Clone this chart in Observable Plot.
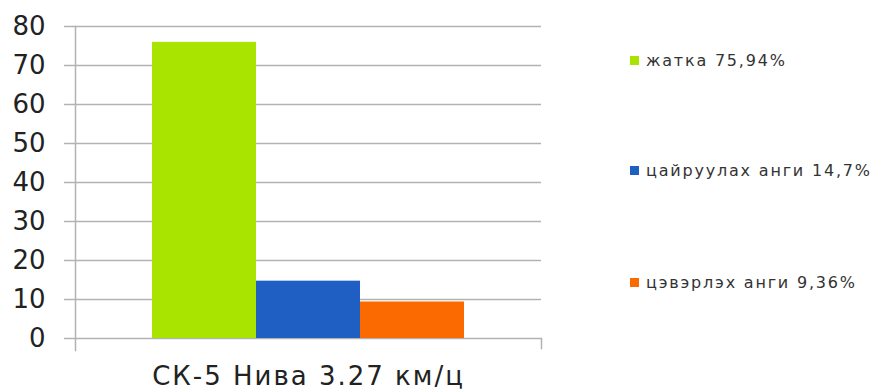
<!DOCTYPE html>
<html><head><meta charset="utf-8">
<script src="https://cdn.jsdelivr.net/npm/d3@7"></script>
<script src="https://cdn.jsdelivr.net/npm/@observablehq/plot@0.6"></script>
<style>
body{margin:0;background:#fff;}
#wrap{position:relative;width:885px;height:391px;}
.leg{position:absolute;left:630px;font:16px "DejaVu Sans",sans-serif;letter-spacing:1.8px;color:#333;display:flex;align-items:center;white-space:nowrap;height:18px;}
.sw{width:9px;height:9px;margin-right:7px;}
.fxax text{letter-spacing:2px;}
</style>
</head><body>
<div id="wrap"></div>
<script>
const category = "СК-5 Нива 3.27 км/ц";
const series = ["жатка", "цайруулах анги", "цэвэрлэх анги"];
const values = [75.94, 14.7, 9.36];
const legendLabels = ["жатка 75,94%", "цайруулах анги 14,7%", "цэвэрлэх анги 9,36%"];
const colors = ["#a8e400", "#1f5ec2", "#fb6a00"];
const yTicks = [0, 10, 20, 30, 40, 50, 60, 70, 80];

const data = series.map((s, i) => ({category, series: s, value: values[i]}));
const W = 885, H = 391, mT = 26, mB = 53, mL = 75, mR = 344;
const grey = "#b2b2b2";

const chart = Plot.plot({
  width: W, height: H, marginLeft: mL, marginRight: mR, marginTop: mT, marginBottom: mB,
  style: {fontFamily: "DejaVu Sans, sans-serif", background: "white", color: "#222"},
  fx: {domain: [category], padding: 0, label: null},
  x: {domain: series, paddingInner: 0, paddingOuter: 0.733, axis: null},
  y: {domain: [0, 80], label: null},
  color: {domain: series, range: colors},
  marks: [
    Plot.gridY(yTicks, {stroke: grey, strokeOpacity: 1, strokeWidth: 1.5}),
    Plot.axisY(yTicks, {tickSize: 11, tickPadding: 19, stroke: grey, strokeWidth: 1.5, fill: "#222", fontSize: 26, label: null}),
    Plot.barY(data, {fx: "category", x: "series", y: "value", fill: "series"}),
    Plot.frame({anchor: "left", insetBottom: -12, stroke: grey, strokeWidth: 1.5}),
    Plot.frame({anchor: "right", insetTop: H - mT - mB, insetBottom: -10, stroke: grey, strokeWidth: 1.5}),
    Plot.axisFx({anchor: "bottom", tickSize: 0, tickPadding: 28, fontSize: 26, fill: "#222", label: null, className: "fxax"})
  ]
});
const wrap = document.getElementById("wrap");
wrap.appendChild(chart);

const legendTops = [51, 161, 273];
legendLabels.forEach((lab, i) => {
  const d = document.createElement("div");
  d.className = "leg";
  d.style.top = legendTops[i] + "px";
  d.innerHTML = `<span class="sw" style="background:${colors[i]}"></span><span>${lab}</span>`;
  wrap.appendChild(d);
});
</script>
</body></html>
